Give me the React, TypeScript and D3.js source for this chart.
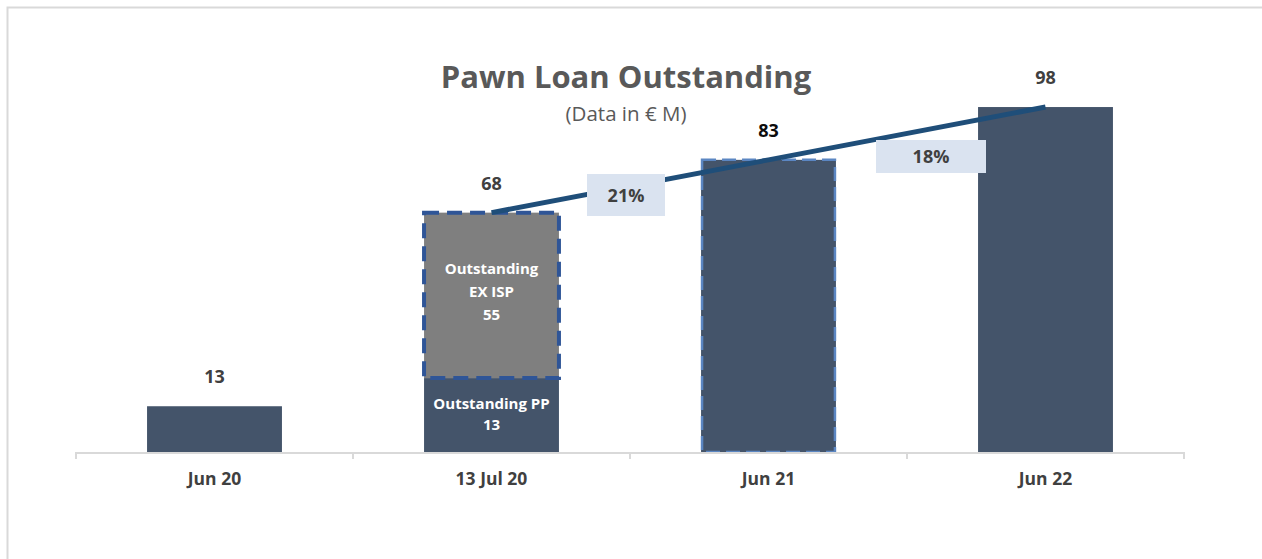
import { useEffect, useRef } from 'react'
import * as d3 from 'd3'

const categories = ['Jun 20', '13 Jul 20', 'Jun 21', 'Jun 22']
// bar heights as drawn in the picture
const ppValues = [13, 21, 83, 98]
const exIspValues = [0, 47, 0, 0]
const totals = [13, 68, 83, 98]
const exIspLabel = ['Outstanding', 'EX ISP', '55']
const ppLabel = ['Outstanding PP', '13']
const growthFrom = 1
const growthLabels = ['21%', '18%']

const W = 1262
const H = 559
const FONT = '"Open Sans", Lato, sans-serif'

export default function App() {
  const ref = useRef<SVGSVGElement>(null)

  useEffect(() => {
    if (!ref.current) return
    const svg = d3.select(ref.current)
    svg.selectAll('*').remove()

    const baseline = 452
    const x = d3
      .scaleBand()
      .domain(categories)
      .range([76, 1184])
      .paddingInner(0.513)
      .paddingOuter(0.2565)
    const y = d3.scaleLinear().domain([0, 120]).range([baseline, baseline - 422.4])
    const step = x.step()
    const cx = (c: string) => (x(c) as number) + x.bandwidth() / 2

    // outer frame (top and left edge visible)
    svg.append('path')
      .attr('d', `M7.5,${H} V7.5 H${W}`)
      .attr('fill', 'none')
      .attr('stroke', '#d9d9d9')
      .attr('stroke-width', 2)

    // title
    svg.append('text')
      .attr('x', 626)
      .attr('y', 88)
      .attr('text-anchor', 'middle')
      .attr('font-family', FONT)
      .attr('font-weight', 700)
      .attr('font-size', 31)
      .attr('fill', '#595959')
      .text('Pawn Loan Outstanding')

    svg.append('text')
      .attr('x', 626)
      .attr('y', 121)
      .attr('text-anchor', 'middle')
      .attr('font-family', FONT)
      .attr('font-size', 20.5)
      .attr('fill', '#595959')
      .text('(Data in € M)')

    // bars
    const g = svg.append('g')
    g.selectAll('rect.pp')
      .data(categories)
      .enter()
      .append('rect')
      .attr('class', 'pp')
      .attr('x', (d) => x(d) as number)
      .attr('width', x.bandwidth())
      .attr('y', (_, i) => y(ppValues[i]))
      .attr('height', (_, i) => baseline - y(ppValues[i]))
      .attr('fill', '#44546a')

    // Jun 21 dashed outline
    const j21 = 2
    g.append('rect')
      .attr('x', (x(categories[j21]) as number) + 1)
      .attr('width', x.bandwidth() - 2)
      .attr('y', y(ppValues[j21]))
      .attr('height', baseline - y(ppValues[j21]))
      .attr('fill', 'none')
      .attr('stroke', '#5b86c2')
      .attr('stroke-width', 2.5)
      .attr('stroke-dasharray', '14 6')

    // ex ISP stacked segment
    const c1 = categories[1]
    g.selectAll('rect.ex')
      .data(categories.filter((_, i) => exIspValues[i] > 0))
      .enter()
      .append('rect')
      .attr('class', 'ex')
      .attr('x', (d) => x(d) as number)
      .attr('width', x.bandwidth())
      .attr('y', (d) => y(totals[categories.indexOf(d)]))
      .attr('height', (d) => {
        const i = categories.indexOf(d)
        return y(ppValues[i]) - y(totals[i])
      })
      .attr('fill', '#7f7f7f')
      .attr('stroke', '#2f5597')
      .attr('stroke-width', 4)
      .attr('stroke-dasharray', '15 8')

    // inner labels of stacked bar
    const exMid = (y(ppValues[1]) + y(totals[1])) / 2
    exIspLabel.forEach((t, k) => {
      g.append('text')
        .attr('x', cx(c1))
        .attr('y', exMid - 21 + k * 23)
        .attr('text-anchor', 'middle')
        .attr('font-family', FONT)
        .attr('font-weight', 700)
        .attr('font-size', 15)
        .attr('fill', '#ffffff')
        .text(t)
    })
    const ppMid = (baseline + y(ppValues[1])) / 2
    ppLabel.forEach((t, k) => {
      g.append('text')
        .attr('x', cx(c1))
        .attr('y', ppMid - 6 + k * 21)
        .attr('text-anchor', 'middle')
        .attr('font-family', FONT)
        .attr('font-weight', 700)
        .attr('font-size', 15)
        .attr('fill', '#ffffff')
        .text(t)
    })

    // axis
    svg.append('line')
      .attr('x1', x.range()[0])
      .attr('x2', x.range()[1])
      .attr('y1', baseline + 1)
      .attr('y2', baseline + 1)
      .attr('stroke', '#d9d9d9')
      .attr('stroke-width', 2)
    const ticks = d3.range(categories.length + 1).map((i) => x.range()[0] + i * step)
    svg.selectAll('line.tick')
      .data(ticks)
      .enter()
      .append('line')
      .attr('x1', (d) => d)
      .attr('x2', (d) => d)
      .attr('y1', baseline)
      .attr('y2', baseline + 7)
      .attr('stroke', '#d9d9d9')
      .attr('stroke-width', 2)

    svg.selectAll('text.cat')
      .data(categories)
      .enter()
      .append('text')
      .attr('x', (d) => cx(d))
      .attr('y', 485)
      .attr('text-anchor', 'middle')
      .attr('font-family', FONT)
      .attr('font-weight', 700)
      .attr('font-size', 17.5)
      .attr('fill', '#404040')
      .text((d) => d)

    // growth line
    const pts = totals.slice(growthFrom).map((v, i) => [cx(categories[growthFrom + i]), y(v)] as [number, number])
    svg.append('path')
      .attr('d', d3.line()(pts))
      .attr('fill', 'none')
      .attr('stroke', '#1f4e79')
      .attr('stroke-width', 5)
      .attr('stroke-linecap', 'butt')

    // growth label boxes
    const boxes = [
      { w: 78, h: 42, dx: -4, top: 174 },
      { w: 110, h: 33, dx: 24, top: 140 },
    ]
    growthLabels.forEach((t, i) => {
      const mid = (cx(categories[growthFrom + i]) + cx(categories[growthFrom + i + 1])) / 2 + boxes[i].dx
      svg.append('rect')
        .attr('x', mid - boxes[i].w / 2)
        .attr('y', boxes[i].top)
        .attr('width', boxes[i].w)
        .attr('height', boxes[i].h)
        .attr('fill', '#dae3f0')
      svg.append('text')
        .attr('x', mid)
        .attr('y', boxes[i].top + boxes[i].h / 2 + 6.5)
        .attr('text-anchor', 'middle')
        .attr('font-family', FONT)
        .attr('font-weight', 700)
        .attr('font-size', 18)
        .attr('fill', '#404040')
        .text(t)
    })

    // total value labels
    svg.selectAll('text.val')
      .data(categories)
      .enter()
      .append('text')
      .attr('x', (d) => cx(d))
      .attr('y', (_, i) => y(totals[i]) - 23)
      .attr('text-anchor', 'middle')
      .attr('font-family', FONT)
      .attr('font-weight', 700)
      .attr('font-size', 18)
      .attr('fill', (_, i) => (i === 2 ? '#0d0d0d' : '#404040'))
      .text((_, i) => String(totals[i]))
  }, [])

  return (
    <div style={{ position: 'fixed', left: 0, top: 0, width: W, height: H, background: '#fff' }}>
      <svg ref={ref} width={W} height={H} />
    </div>
  )
}
